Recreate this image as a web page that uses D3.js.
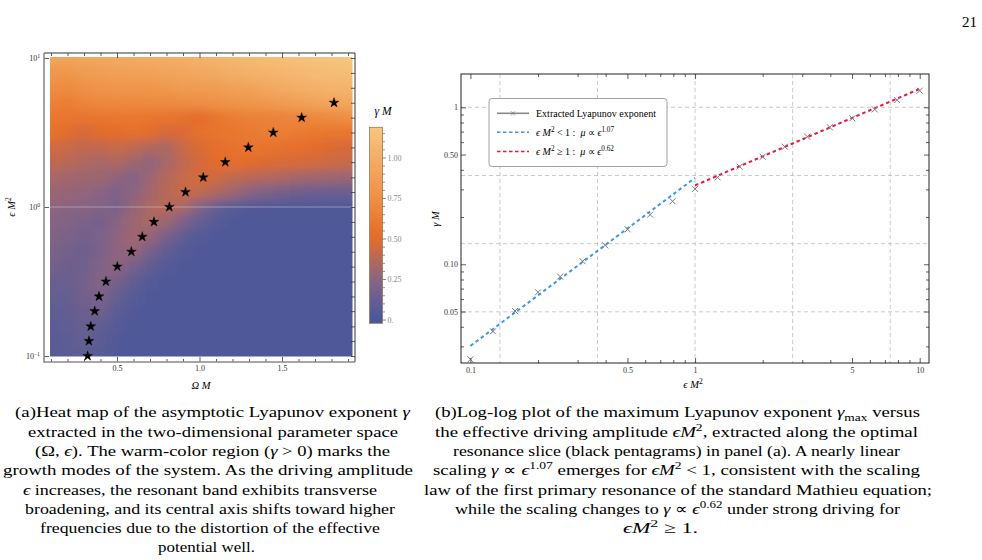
<!DOCTYPE html>
<html><head><meta charset="utf-8">
<script src="https://cdn.jsdelivr.net/npm/d3@7"></script>
<style>
body{margin:0;background:#fff}
svg{display:block}
text{font-family:"Liberation Serif","Times New Roman",serif}
</style>
</head><body>
<svg id="c" width="982" height="560"></svg>
<script>
// ---------------- DATA ----------------
// Panel (a): optimal resonance slice (black pentagrams)
const starOmega = [0.322,0.330,0.341,0.365,0.391,0.433,0.502,0.587,0.653,0.724,0.817,0.915,1.023,1.156,1.296,1.447,1.619,1.815];
const starEps   = [0.1,0.126,0.158,0.2,0.251,0.316,0.398,0.501,0.631,0.794,1.0,1.26,1.58,2.0,2.51,3.16,3.98,5.01];

// Panel (a): heat map grid (gamma M), columns = Omega M, rows = log10(eps M^2)
const heatOmega  = [0.1,0.2,0.3,0.4,0.5,0.6,0.7,0.8,0.9,1.0,1.1,1.2,1.3,1.4,1.5,1.6,1.7,1.8,1.9];
const heatEpsExp = [1.0,0.9,0.8,0.7,0.6,0.5,0.4,0.3,0.2,0.1,0.0,-0.1,-0.2,-0.3,-0.4,-0.5,-0.6,-0.7,-0.8,-0.9,-1.0];
const heatGamma = [
 [0.93,0.92,0.94,0.95,0.96,0.97,0.98,1.00,1.01,1.03,1.05,1.07,1.09,1.11,1.13,1.15,1.16,1.17,1.18],
 [0.82,0.80,0.84,0.86,0.88,0.89,0.90,0.92,0.93,0.95,0.97,1.00,1.02,1.04,1.06,1.08,1.10,1.11,1.12],
 [0.74,0.72,0.76,0.78,0.80,0.80,0.80,0.82,0.84,0.85,0.86,0.88,0.91,0.94,0.97,1.00,1.02,1.04,1.05],
 [0.66,0.64,0.68,0.70,0.70,0.71,0.72,0.72,0.73,0.74,0.76,0.78,0.80,0.82,0.85,0.88,0.91,0.93,0.94],
 [0.60,0.58,0.56,0.58,0.60,0.60,0.58,0.56,0.54,0.50,0.58,0.62,0.65,0.66,0.67,0.68,0.70,0.72,0.74],
 [0.55,0.50,0.46,0.50,0.50,0.54,0.50,0.46,0.48,0.54,0.57,0.59,0.61,0.63,0.64,0.62,0.60,0.59,0.58],
 [0.45,0.42,0.40,0.40,0.42,0.40,0.35,0.34,0.42,0.48,0.52,0.55,0.58,0.56,0.54,0.52,0.50,0.48,0.46],
 [0.40,0.38,0.35,0.33,0.35,0.30,0.27,0.33,0.40,0.45,0.50,0.52,0.50,0.48,0.47,0.46,0.45,0.43,0.42],
 [0.33,0.32,0.30,0.30,0.26,0.23,0.30,0.36,0.42,0.46,0.44,0.40,0.38,0.36,0.34,0.32,0.31,0.30,0.29],
 [0.30,0.28,0.27,0.25,0.21,0.26,0.32,0.38,0.42,0.40,0.35,0.30,0.25,0.20,0.17,0.15,0.14,0.13,0.13],
 [0.27,0.25,0.24,0.22,0.19,0.28,0.34,0.38,0.33,0.22,0.12,0.06,0.03,0.03,0.03,0.03,0.03,0.03,0.03],
 [0.24,0.22,0.20,0.18,0.24,0.30,0.34,0.30,0.20,0.12,0.06,0.03,0.02,0.02,0.02,0.02,0.02,0.02,0.02],
 [0.22,0.20,0.17,0.20,0.26,0.31,0.28,0.18,0.10,0.05,0.03,0.02,0.02,0.02,0.02,0.02,0.02,0.02,0.02],
 [0.20,0.17,0.15,0.20,0.26,0.28,0.18,0.10,0.05,0.03,0.02,0.02,0.02,0.02,0.02,0.02,0.02,0.02,0.02],
 [0.17,0.15,0.16,0.22,0.26,0.18,0.10,0.05,0.03,0.02,0.02,0.02,0.02,0.02,0.02,0.02,0.02,0.02,0.02],
 [0.14,0.13,0.18,0.23,0.18,0.10,0.05,0.03,0.02,0.02,0.02,0.02,0.02,0.02,0.02,0.02,0.02,0.02,0.02],
 [0.12,0.12,0.17,0.20,0.12,0.06,0.03,0.02,0.02,0.02,0.02,0.02,0.02,0.02,0.02,0.02,0.02,0.02,0.02],
 [0.10,0.11,0.15,0.16,0.08,0.04,0.02,0.02,0.02,0.02,0.02,0.02,0.02,0.02,0.02,0.02,0.02,0.02,0.02],
 [0.09,0.10,0.13,0.10,0.05,0.03,0.02,0.02,0.02,0.02,0.02,0.02,0.02,0.02,0.02,0.02,0.02,0.02,0.02],
 [0.08,0.09,0.12,0.08,0.04,0.02,0.02,0.02,0.02,0.02,0.02,0.02,0.02,0.02,0.02,0.02,0.02,0.02,0.02],
 [0.07,0.08,0.10,0.06,0.03,0.02,0.02,0.02,0.02,0.02,0.02,0.02,0.02,0.02,0.02,0.02,0.02,0.02,0.02]
];

// Colour map
const colorStopValues = [0,0.10,0.25,0.40,0.50,0.60,0.75,1.00,1.19];
const colorStopColors = ["#4b579a","#5f5d93","#8a6482","#c0694f","#e36c2c","#e9782f","#ee9046","#f3ae66","#f7c680"];
const colorbarTickValues = [0,0.25,0.5,0.75,1.0];
const colorbarTickLabels = ["0.","0.25","0.50","0.75","1.00"];

// Panel (b): extracted Lyapunov exponent
const lyapEps   = [0.1,0.126,0.158,0.2,0.251,0.316,0.398,0.501,0.631,0.794,1,1.26,1.58,2,2.51,3.16,3.98,5.01,6.31,7.94,10];
const lyapGamma = [0.0248,0.0374,0.0504,0.0663,0.0834,0.1045,0.132,0.167,0.207,0.252,0.302,0.358,0.419,0.484,0.561,0.650,0.746,0.851,0.970,1.112,1.276];
// power-law fits (end points)
const fitLowEps  = [0.1,1];  const fitLowGamma  = [0.0302,0.355];
const fitHighEps = [1,10];   const fitHighGamma = [0.318,1.31];
// tick values
const bXMajor = [0.1,0.5,1,5,10];       const bXLabels = ["0.1","0.5","1","5","10"];
const bXMinor = [0.2,0.3,0.4,0.6,0.7,0.8,0.9,2,3,4,6,7,8,9];
const bYMajor = [0.05,0.1,0.5,1];        const bYLabels = ["0.05","0.10","0.50","1"];
const bYMinor = [0.03,0.04,0.06,0.07,0.08,0.09,0.2,0.3,0.4,0.6,0.7,0.8,0.9];
const bGridX = [0.1353,0.3679,1,2.718,7.389];
const bGridY = [0.0498,0.1353,0.3679,1];
const aXMajor = [0.5,1.0,1.5];
const aXMinor = [0.1,0.2,0.3,0.4,0.6,0.7,0.8,0.9,1.1,1.2,1.3,1.4,1.6,1.7,1.8,1.9];
const aYMajor = [0.1,1,10];  const aYExp = ["-1","0","1"];

// ---------------- DRAW ----------------
const svg = d3.select("#c");
const defs = svg.append("defs");

function rich(g, x, y, segs, size, opts={}) {
  const t = g.append("text").attr("x", x).attr("y", y).style("font-size", size + "px");
  if (opts.anchor) t.attr("text-anchor", opts.anchor);
  if (opts.fill) t.attr("fill", opts.fill);
  if (opts.pre) t.style("white-space", "pre");
  let shift = 0;
  segs.forEach(s => {
    const o = typeof s === "string" ? {t: s} : s;
    const txt = o.t ?? o.i ?? o.sup ?? o.sub;
    const ts = t.append("tspan").text(txt);
    if (o.i !== undefined) ts.style("font-style", "italic");
    const target = o.sup !== undefined ? -0.38 * size : (o.sub !== undefined ? 0.22 * size : 0);
    if (target !== shift) { ts.attr("dy", target - shift); shift = target; }
    if (o.sup !== undefined || o.sub !== undefined) ts.style("font-size", (0.72 * size) + "px");
  });
  if (opts.width) t.attr("textLength", opts.width).attr("lengthAdjust", "spacingAndGlyphs");
  return t;
}

// colour scale
const color = d3.scaleLinear().domain(colorStopValues).range(colorStopColors).interpolate(d3.interpolateRgb).clamp(true);

// ===== Panel (a) =====
const xH = d3.scaleLinear().domain([0.094, 1.924]).range([50, 352]);
const yH = d3.scaleLog().domain([0.1, 10]).range([356, 58]);

defs.append("clipPath").attr("id", "clipA").append("rect")
  .attr("x", 50).attr("y", 57).attr("width", 302.5).attr("height", 299.5);
const flt = defs.append("filter").attr("id", "smooth")
  .attr("x", "-10%").attr("y", "-10%").attr("width", "120%").attr("height", "120%");
flt.append("feGaussianBlur").attr("stdDeviation", "6 5").attr("result", "b");
flt.append("feComponentTransfer").append("feFuncA").attr("type", "discrete").attr("tableValues", "1");

const heatG = svg.append("g").attr("clip-path", "url(#clipA)").append("g").attr("filter", "url(#smooth)");
heatEpsExp.forEach((L, r) => {
  heatOmega.forEach((om, c) => {
    const x0 = xH(om - 0.05), x1 = xH(om + 0.05);
    const y0 = yH(Math.pow(10, L + 0.05)), y1 = yH(Math.pow(10, L - 0.05));
    heatG.append("rect").attr("x", x0).attr("y", y0)
      .attr("width", x1 - x0 + 0.6).attr("height", y1 - y0 + 0.6)
      .attr("fill", color(heatGamma[r][c])).attr("shape-rendering", "crispEdges");
  });
});
// faint line at eps M^2 = 1
svg.append("line").attr("x1", 50).attr("x2", 352.5).attr("y1", yH(1)).attr("y2", yH(1))
  .attr("stroke", "#c8c8c8").attr("stroke-opacity", 0.55).attr("stroke-width", 1);

// stars
svg.append("g").selectAll("path").data(starOmega).join("path")
  .attr("transform", (d, i) => `translate(${xH(d)},${yH(starEps[i])})`)
  .attr("d", d3.symbol(d3.symbolStar).size(30))
  .attr("fill", "#000").attr("stroke", "#000").attr("stroke-width", 0.4);

// frame (a)
const aL = 44, aR = 355, aT = 53, aB = 362;
function styleAxis(g, col) {
  g.select(".domain").remove();
  g.selectAll(".tick line").attr("stroke", col || "#333").attr("stroke-width", 0.8);
  g.selectAll(".tick text").style("font-family", '"Liberation Serif",serif').style("font-size", "8px").attr("fill", "#333");
}
const axA = svg.append("g");
styleAxis(axA.append("g").attr("transform", `translate(0,${aB})`).call(d3.axisBottom(xH).tickValues(aXMajor).tickFormat(d3.format(".1f")).tickSize(-5).tickPadding(3)));
styleAxis(axA.append("g").attr("transform", `translate(0,${aB})`).call(d3.axisBottom(xH).tickValues(aXMinor).tickFormat("").tickSize(-3)));
styleAxis(axA.append("g").attr("transform", `translate(0,${aT})`).call(d3.axisTop(xH).tickValues(aXMajor).tickFormat("").tickSize(-5)));
styleAxis(axA.append("g").attr("transform", `translate(0,${aT})`).call(d3.axisTop(xH).tickValues(aXMinor).tickFormat("").tickSize(-3)));
styleAxis(axA.append("g").attr("transform", `translate(${aL},0)`).call(d3.axisLeft(yH).tickValues(aYMajor).tickFormat("").tickSize(-5)));
styleAxis(axA.append("g").attr("transform", `translate(${aR},0)`).call(d3.axisRight(yH).tickValues(starEps.concat([6.31,7.94,10])).tickFormat("").tickSize(-4)));
axA.append("line").attr("x1", aL).attr("x2", aR).attr("y1", aT).attr("y2", aT).attr("stroke", "#333").attr("stroke-width", 1);
axA.append("line").attr("x1", aR).attr("x2", aR).attr("y1", aT).attr("y2", aB).attr("stroke", "#333").attr("stroke-width", 1);
axA.append("line").attr("x1", aL).attr("x2", aL).attr("y1", aT).attr("y2", aB + 0.8).attr("stroke", "#8a8a8a").attr("stroke-width", 1.6);
axA.append("line").attr("x1", aL).attr("x2", aR).attr("y1", aB).attr("y2", aB).attr("stroke", "#8a8a8a").attr("stroke-width", 1.6);
aYMajor.forEach((v, i) => rich(svg, 40, yH(v) + 3, ["10", {sup: aYExp[i].replace("-", "\u2212")}], 8, {anchor: "end", fill: "#333"}));

// axis labels (a)
rich(svg, 201, 389, [{i: "\u03A9"}, " ", {i: "M"}], 10.5, {anchor: "middle"});
rich(svg.append("g").attr("transform", "translate(15,207) rotate(-90)"), 0, 0, [{i: "\u03F5"}, " ", {i: "M"}, {sup: "2"}], 10.5, {anchor: "middle"});

// colour bar
const cbY = d3.scaleLinear().domain([-0.023, 1.186]).range([323.3, 127.3]);
const grad = defs.append("linearGradient").attr("id", "cbg").attr("x1", 0).attr("x2", 0).attr("y1", 1).attr("y2", 0);
d3.range(0, 41).forEach(k => {
  const v = cbY.domain()[0] + (cbY.domain()[1] - cbY.domain()[0]) * k / 40;
  grad.append("stop").attr("offset", (k / 40)).attr("stop-color", color(v));
});
svg.append("rect").attr("x", 369.5).attr("y", cbY(1.186)).attr("width", 13).attr("height", cbY(-0.023) - cbY(1.186))
  .attr("fill", "url(#cbg)").attr("stroke", "#9a7a55").attr("stroke-width", 0.8);
const cbAx = svg.append("g").attr("transform", "translate(382.5,0)");
cbAx.call(d3.axisRight(cbY).tickValues(colorbarTickValues).tickFormat((d, i) => colorbarTickLabels[i]).tickSize(3.5).tickPadding(1.5));
cbAx.select(".domain").remove();
cbAx.selectAll(".tick line").attr("stroke", "#666").attr("stroke-width", 0.8);
cbAx.selectAll(".tick text").style("font-family", '"Liberation Serif",serif').style("font-size", "8px").attr("fill", "#888");
const cbMin = svg.append("g").attr("transform", "translate(382.5,0)")
  .call(d3.axisRight(cbY).tickValues(d3.range(0.05, 1.17, 0.05).filter(v => Math.abs(v * 4 - Math.round(v * 4)) > 0.01)).tickFormat("").tickSize(2.5));
cbMin.select(".domain").remove();
cbMin.selectAll(".tick line").attr("stroke", "#666").attr("stroke-width", 0.7);
rich(svg, 383, 115, [{i: "\u03B3"}, " ", {i: "M"}], 11.5, {anchor: "middle"});

// ===== Panel (b) =====
const xR = d3.scaleLog().domain([0.0908, 11.0]).range([461, 929]);
const yR = d3.scaleLog().domain([0.0235, 1.63]).range([363, 74]);
const bL = 461, bR = 929, bT = 74, bB = 363;

// grid
const gridG = svg.append("g").attr("stroke", "#bdbdbd").attr("stroke-width", 0.8).attr("stroke-dasharray", "4,3");
bGridX.forEach(v => gridG.append("line").attr("x1", xR(v)).attr("x2", xR(v)).attr("y1", bT).attr("y2", bB));
bGridY.forEach(v => gridG.append("line").attr("x1", bL).attr("x2", bR).attr("y1", yR(v)).attr("y2", yR(v)));

// fit lines
const lineGen = d3.line().x(d => xR(d[0])).y(d => yR(d[1]));
svg.append("path").attr("d", lineGen(fitLowEps.map((e, i) => [e, fitLowGamma[i]])))
  .attr("stroke", "#3d97f0").attr("stroke-width", 2).attr("stroke-dasharray", "3.5,3").attr("fill", "none");
svg.append("path").attr("d", lineGen(fitHighEps.map((e, i) => [e, fitHighGamma[i]])))
  .attr("stroke", "#e8173f").attr("stroke-width", 2).attr("stroke-dasharray", "3.5,3").attr("fill", "none");

// markers
const xMark = "M-3,-3L3,3M-3,3L3,-3";
svg.append("g").selectAll("path").data(lyapEps).join("path")
  .attr("transform", (d, i) => `translate(${xR(d)},${yR(lyapGamma[i])})`)
  .attr("d", xMark).attr("stroke", "#7a7a7a").attr("stroke-width", 1).attr("fill", "none");

// axes (b)
const axB = svg.append("g");
styleAxis(axB.append("g").attr("transform", `translate(0,${bB})`).call(d3.axisBottom(xR).tickValues(bXMajor).tickFormat((d, i) => bXLabels[i]).tickSize(-5).tickPadding(4)));
styleAxis(axB.append("g").attr("transform", `translate(0,${bB})`).call(d3.axisBottom(xR).tickValues(bXMinor).tickFormat("").tickSize(-3)));
styleAxis(axB.append("g").attr("transform", `translate(0,${bT})`).call(d3.axisTop(xR).tickValues(bXMajor).tickFormat("").tickSize(-5)));
styleAxis(axB.append("g").attr("transform", `translate(0,${bT})`).call(d3.axisTop(xR).tickValues(bXMinor).tickFormat("").tickSize(-3)));
styleAxis(axB.append("g").attr("transform", `translate(${bL},0)`).call(d3.axisLeft(yR).tickValues(bYMajor).tickFormat((d, i) => bYLabels[i]).tickSize(-5).tickPadding(3)));
styleAxis(axB.append("g").attr("transform", `translate(${bL},0)`).call(d3.axisLeft(yR).tickValues(bYMinor).tickFormat("").tickSize(-3)));
styleAxis(axB.append("g").attr("transform", `translate(${bR},0)`).call(d3.axisRight(yR).tickValues(bYMajor).tickFormat("").tickSize(-5)));
styleAxis(axB.append("g").attr("transform", `translate(${bR},0)`).call(d3.axisRight(yR).tickValues(bYMinor).tickFormat("").tickSize(-3)));
axB.append("rect").attr("x", bL).attr("y", bT).attr("width", bR - bL).attr("height", bB - bT)
  .attr("fill", "none").attr("stroke", "#222").attr("stroke-width", 1);

rich(svg, 693, 388, [{i: "\u03F5"}, " ", {i: "M"}, {sup: "2"}], 10.5, {anchor: "middle"});
rich(svg.append("g").attr("transform", "translate(439,219) rotate(-90)"), 0, 0, [{i: "\u03B3"}, " ", {i: "M"}], 10.5, {anchor: "middle"});

// legend
const lg = svg.append("g");
lg.append("rect").attr("x", 489).attr("y", 98.5).attr("width", 178).attr("height", 68).attr("rx", 3)
  .attr("fill", "#fff").attr("stroke", "#a0a0a0").attr("stroke-width", 1);
lg.append("line").attr("x1", 497).attr("x2", 529).attr("y1", 113.3).attr("y2", 113.3).attr("stroke", "#888").attr("stroke-width", 1.6);
lg.append("path").attr("transform", "translate(513,113.3) scale(0.7)").attr("d", xMark).attr("stroke", "#777").attr("fill", "none");
lg.append("line").attr("x1", 497).attr("x2", 529).attr("y1", 132.3).attr("y2", 132.3).attr("stroke", "#3d97f0").attr("stroke-width", 1.5).attr("stroke-dasharray", "3.5,2.5");
lg.append("line").attr("x1", 497).attr("x2", 529).attr("y1", 151.5).attr("y2", 151.5).attr("stroke", "#e8173f").attr("stroke-width", 1.5).attr("stroke-dasharray", "3.5,2.5");
rich(lg, 536, 116.7, ["Extracted Lyapunov exponent"], 10);
rich(lg, 536, 135.7, [{i: "\u03F5"}, " ", {i: "M"}, {sup: "2"}, " < 1 :  ", {i: "\u03BC"}, " \u221D ", {i: "\u03F5"}, {sup: "1.07"}], 10, {pre: true});
rich(lg, 536, 154.9, [{i: "\u03F5"}, " ", {i: "M"}, {sup: "2"}, " \u2265 1 :  ", {i: "\u03BC"}, " \u221D ", {i: "\u03F5"}, {sup: "0.62"}], 10, {pre: true});

// ===== page number & captions =====
rich(svg, 977, 27, ["21"], 15, {anchor: "end"});
const capA = [
  [15, 410, ["(a)Heat map of the asymptotic Lyapunov exponent ", {i: "\u03B3"}]],
  [28, 398, ["extracted in the two-dimensional parameter space"]],
  [35, 390, ["(\u03A9, ", {i: "\u03F5"}, "). The warm-color region (", {i: "\u03B3"}, " > 0) marks the"]],
  [3, 413, ["growth modes of the system. As the driving amplitude"]],
  [23, 377, [{i: "\u03F5"}, " increases, the resonant band exhibits transverse"]],
  [25, 395, ["broadening, and its central axis shifts toward higher"]],
  [40, 380, ["frequencies due to the distortion of the effective"]],
  [158, 255, ["potential well."]]
];
const capB = [
  [435, 920, ["(b)Log-log plot of the maximum Lyapunov exponent ", {i: "\u03B3"}, {sub: "max"}, " versus"]],
  [435, 918, ["the effective driving amplitude ", {i: "\u03F5M"}, {sup: "2"}, ", extracted along the optimal"]],
  [453, 900, ["resonance slice (black pentagrams) in panel (a). A nearly linear"]],
  [433, 920, ["scaling ", {i: "\u03B3"}, " \u221D ", {i: "\u03F5"}, {sup: "1.07"}, " emerges for ", {i: "\u03F5M"}, {sup: "2"}, " < 1, consistent with the scaling"]],
  [424, 932, ["law of the first primary resonance of the standard Mathieu equation;"]],
  [455, 900, ["while the scaling changes to ", {i: "\u03B3"}, " \u221D ", {i: "\u03F5"}, {sup: "0.62"}, " under strong driving for"]],
  [623, 698, [{i: "\u03F5M"}, {sup: "2"}, " \u2265 1."]]
];
const capBase = [417.3, 436.6, 455.9, 475.2, 494.5, 513.8, 533.1, 552.4];
capA.forEach((c, i) => rich(svg, c[0], capBase[i], c[2], 15.3, {width: c[1] - c[0]}));
capB.forEach((c, i) => rich(svg, c[0], capBase[i], c[2], 15.3, {width: c[1] - c[0]}));
</script>
</body></html>
